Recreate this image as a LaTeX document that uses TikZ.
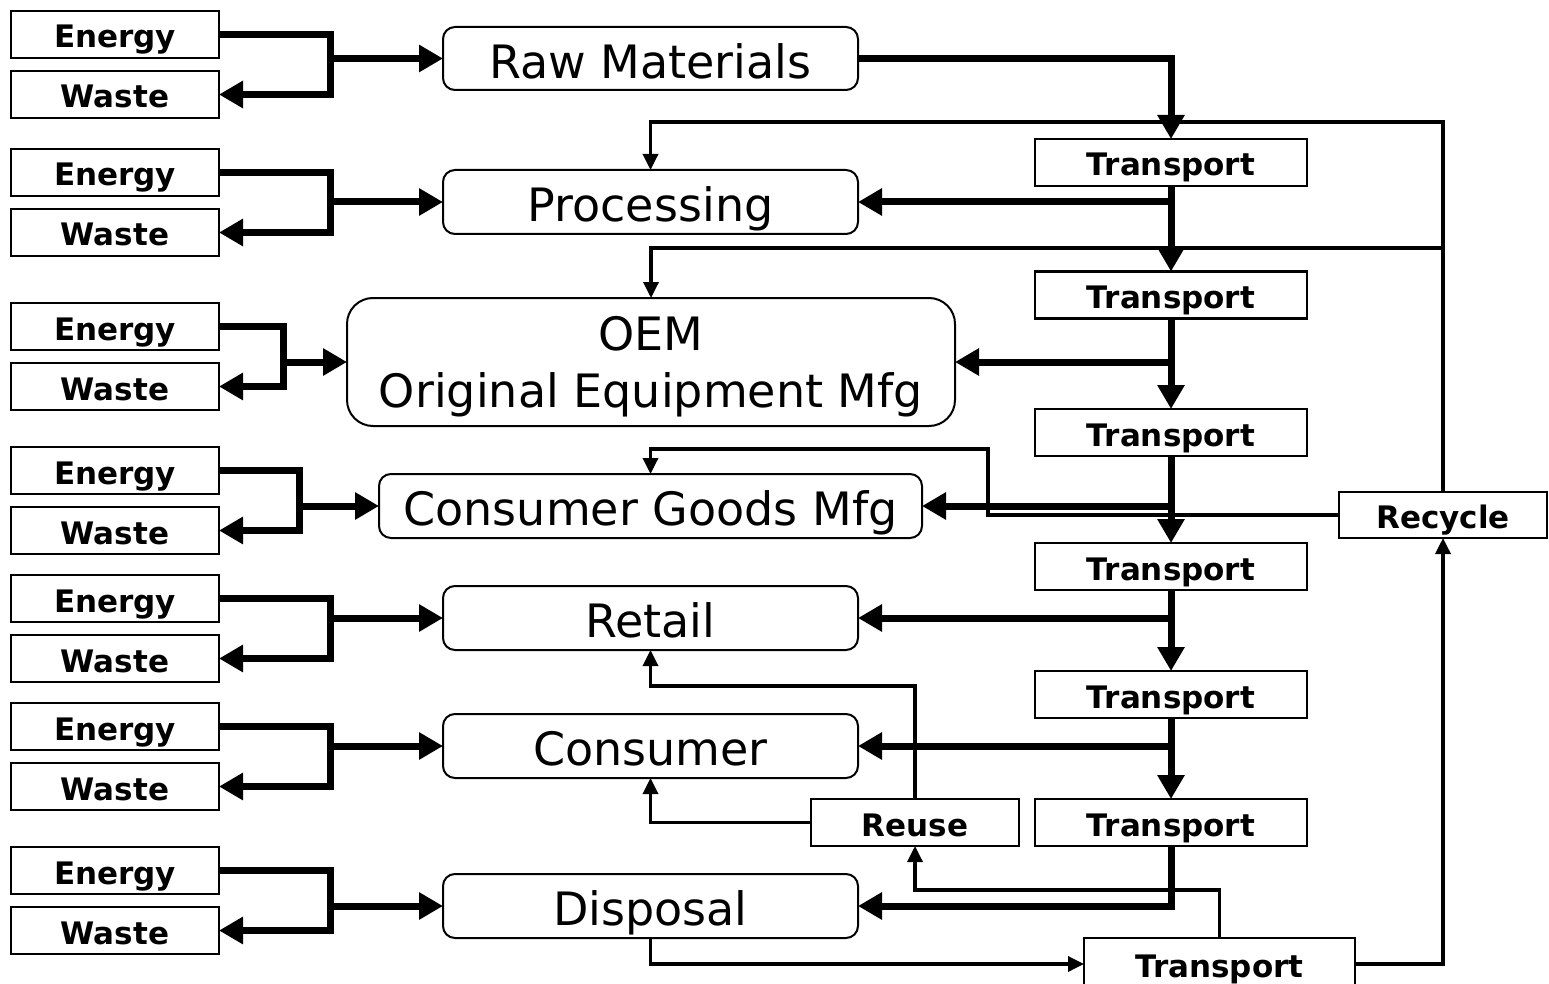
\documentclass[tikz,border=0pt]{standalone}
\usepackage{fontspec}
\setmainfont{DejaVu Sans}
\usetikzlibrary{arrows.meta}
\newcommand\stagefont{\fontsize{46}{57}\selectfont}
\newcommand\tagfont{\fontsize{31}{36}\selectfont\bfseries}
\tikzset{
  sidebox/.style={draw, line width=2.2pt, inner sep=0pt, outer sep=0pt,
    minimum width=208pt, minimum height=47pt, font=\tagfont,
    text height=27pt, text depth=0pt},
  movebox/.style={sidebox, minimum width=272pt},
  stagebox/.style={draw, line width=2pt, rounded corners=12pt, inner sep=0pt,
    outer sep=0pt, minimum height=64pt, font=\stagefont,
    text height=39.5pt, text depth=0pt},
  twoline/.style={draw, line width=2pt, rounded corners=26pt, inner sep=0pt,
    outer sep=0pt, font=\stagefont, align=center, text depth=0pt},
  flow/.style={line width=7pt, line join=miter,
    -{Triangle[length=24pt,width=26pt]}},
  back/.style={line width=3.4pt, line join=miter,
    -{Triangle[length=16pt,width=15pt]}},
}
\begin{document}
\begin{tikzpicture}[x=1pt,y=-1pt]
\clip (0,0) rectangle (1549,984);

% inputs and outputs of each stage
\foreach \i/\ye/\yw in {1/34.5/94.5, 2/172.5/232.5, 3/326.5/386.5, 4/470.5/530.5,
                        5/598.5/658.5, 6/726.5/786.5, 7/870.5/930.5}{
  \node[sidebox] (E\i) at (115,\ye) {Energy};
  \node[sidebox] (W\i) at (115,\yw) {Waste};
}

% life-cycle stages
\node[stagebox, minimum width=415pt, minimum height=63pt] (raw) at (650.5,58.5) {Raw Materials};
\node[stagebox, minimum width=415pt] (proc) at (650.5,202) {Processing};
\node[twoline, minimum width=608pt, minimum height=128pt] (oem) at (651,362) {OEM\\Original Equipment Mfg};
\node[stagebox, minimum width=543pt] (cgm) at (650.5,506) {Consumer Goods Mfg};
\node[stagebox, minimum width=415pt] (retail) at (650.5,618) {Retail};
\node[stagebox, minimum width=415pt] (cons) at (650.5,746) {Consumer};
\node[stagebox, minimum width=415pt] (disp) at (650.5,906) {Disposal};

% transport links
\node[movebox] (T1) at (1171,162.5) {Transport};
\node[movebox] (T2) at (1171,295) {Transport};
\node[movebox] (T3) at (1171,432.5) {Transport};
\node[movebox] (T4) at (1171,566.5) {Transport};
\node[movebox] (T5) at (1171,694.5) {Transport};
\node[movebox] (T6) at (1171,822.5) {Transport};
\node[movebox, minimum width=271pt, minimum height=52pt] (T7) at (1219.5,964) {Transport};
\node[sidebox, minimum height=46pt] (rec) at (1443,515) {Recycle};
\node[sidebox] (reuse) at (915,822.5) {Reuse};

% bracket joints on the left
\coordinate (b1) at (330,58.5);
\coordinate (b2) at (330,202);
\coordinate (b3) at (283,362);
\coordinate (b4) at (299,506);
\coordinate (b5) at (330,618);
\coordinate (b6) at (330,746);
\coordinate (b7) at (330,906);
\foreach \i/\s in {1/raw, 2/proc, 3/oem, 4/cgm, 5/retail, 6/cons, 7/disp}{
  \draw[flow] (E\i.east) -| (b\i) |- (W\i.east);
  \draw[flow] (b\i) -- (\s.west);
}

% recycling and reuse loops
\coordinate (rtop) at (1443,122);
\coordinate (rmid) at (1443,248);
\coordinate (rknee) at (988,449);
\coordinate (ubot) at (915,890);
\coordinate (utop) at (915,686);
\draw[back] (rec.north) -- (rtop) -| (proc.north);
\draw[back] (rmid) -| (oem.north);
\draw[back] (rec.west) -| (rknee) -| (cgm.north);
\draw[back] (disp.south) |- (T7.west);
\draw[back] (T7.east) -| (rec.south);
\draw[back] (T7.north) |- (ubot) -- (reuse.south);
\draw[back] (reuse.west) -| (cons.south);
\draw[back] (reuse.north) -- (utop) -| (retail.south);

% main forward flow through transport
\draw[flow] (raw.east) -| (T1.north);
\draw[flow] (T1.south) -- (T2.north);
\draw[flow] (T2.south) -- (T3.north);
\draw[flow] (T3.south) -- (T4.north);
\draw[flow] (T4.south) -- (T5.north);
\draw[flow] (T5.south) -- (T6.north);
\draw[flow] (T1.south |- proc.east) -- (proc.east);
\draw[flow] (T2.south |- oem.east) -- (oem.east);
\draw[flow] (T3.south |- cgm.east) -- (cgm.east);
\draw[flow] (T4.south |- retail.east) -- (retail.east);
\draw[flow] (T5.south |- cons.east) -- (cons.east);
\draw[flow] (T6.south) |- (disp.east);
\end{tikzpicture}
\end{document}
